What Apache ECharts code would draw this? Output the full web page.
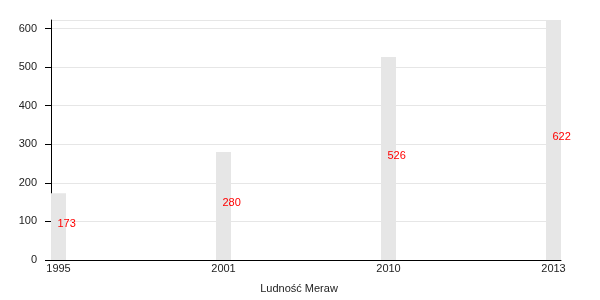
<!DOCTYPE html>
<html><head><meta charset="utf-8">
<script src="https://cdn.jsdelivr.net/npm/echarts@6/dist/echarts.min.js"></script>
<style>html,body{margin:0;padding:0;background:#fff}#c{width:600px;height:300px}</style>
</head><body><div id="c"></div>
<script>
const years = ['1995', '2001', '2010', '2013'];
const population = [173, 280, 526, 622];
const yTicks = [0, 100, 200, 300, 400, 500, 600];
const chartTitle = 'Ludność Meraw';

const chart = echarts.init(document.getElementById('c'), null, {renderer: 'canvas'});
const F = 'Liberation Sans, Arial, sans-serif';
chart.setOption({
  animation: false,
  textStyle: {fontFamily: F},
  title: {
    text: chartTitle, left: 294, bottom: 1, textAlign: 'center',
    textStyle: {fontFamily: F, fontSize: 11, fontWeight: 'normal', color: '#222'}
  },
  grid: {left: 51, right: 39, top: 20, bottom: 40, containLabel: false},
  xAxis: {
    type: 'value', min: -0.0455, max: 3.0455,
    splitLine: {show: false},
    axisTick: {show: false},
    axisLine: {onZero: false, lineStyle: {color: '#000', width: 1}},
    axisLabel: {
      color: '#222', fontSize: 11, fontFamily: F, margin: 3,
      showMinLabel: false, showMaxLabel: false,
      formatter: function (v) {
        const i = Math.round(v);
        return (Math.abs(v - i) < 1e-6 && years[i]) ? years[i] : '';
      }
    }
  },
  yAxis: {
    type: 'value', min: yTicks[0], max: 622, interval: 100,
    axisLine: {show: true, onZero: false, lineStyle: {color: '#000', width: 1}},
    axisTick: {show: true, length: 6, lineStyle: {color: '#000'}},
    splitLine: {lineStyle: {color: '#e6e6e6', width: 1}},
    axisLabel: {
      color: '#222', fontSize: 11, fontFamily: F, margin: 14,
      showMaxLabel: false,
      formatter: function (v) { return yTicks.indexOf(v) >= 0 ? String(v) : ''; }
    }
  },
  series: [{
    type: 'bar',
    barWidth: 15,
    itemStyle: {color: '#e6e6e6'},
    data: population.map((v, i) => [i, v]),
    label: {
      show: true, position: ['50%', '50%'], align: 'left', verticalAlign: 'middle',
      offset: [-1, -3],
      color: '#ff0000', fontSize: 11, fontFamily: F,
      formatter: function (p) { return String(p.value[1]); }
    }
  }]
});
</script></body></html>
